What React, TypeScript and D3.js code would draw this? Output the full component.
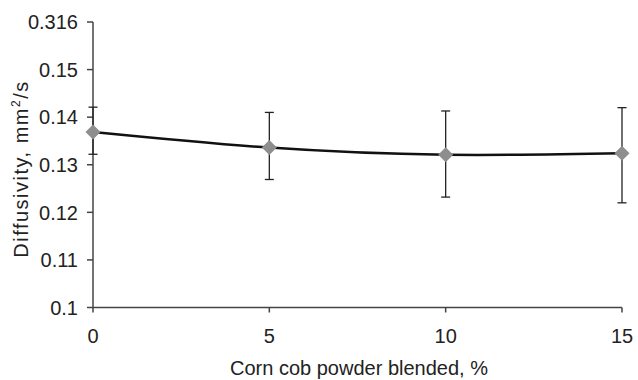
import React from "react";
import * as d3 from "d3";

const blend = [0, 5, 10, 15];
const diffusivity = [0.1369, 0.1336, 0.1321, 0.1324];
const errHigh = [0.1421, 0.141, 0.1413, 0.142];
const errLow = [0.1322, 0.1269, 0.1232, 0.122];
const yTickValues = [0.1, 0.11, 0.12, 0.13, 0.14, 0.15, 0.16];
const yTickLabels = ["0.1", "0.11", "0.12", "0.13", "0.14", "0.15", "0.316"];
const xTickValues = [0, 5, 10, 15];

export default function App() {
  const W = 638, H = 380;
  const x = d3.scaleLinear().domain([0, 15]).range([93, 622]);
  const y = d3.scaleLinear().domain([0.1, 0.16]).range([307.5, 22]);
  const line = d3
    .line<number>()
    .x((_, i) => x(blend[i]))
    .y((d) => y(d))
    .curve(d3.curveNatural);
  const font = "'Liberation Sans', Arial, Helvetica, sans-serif";
  const axisColor = "#444";
  return (
    <svg width={W} height={H} style={{ position: "absolute", left: 0, top: 0, background: "#fff" }} fontFamily={font}>
      {/* y axis */}
      <line x1={x(0)} x2={x(0)} y1={y(0.16)} y2={y(0.1)} stroke={axisColor} strokeWidth={1.5} />
      {yTickValues.map((v, i) => (
        <g key={"y" + i}>
          <line x1={x(0) - 6} x2={x(0)} y1={y(v)} y2={y(v)} stroke={axisColor} strokeWidth={1.5} />
          <text x={x(0) - 15} y={y(v)} dy="0.36em" textAnchor="end" fontSize={20} fill="#222">
            {yTickLabels[i]}
          </text>
        </g>
      ))}
      {/* x axis */}
      <line x1={x(0)} x2={x(15)} y1={y(0.1)} y2={y(0.1)} stroke={axisColor} strokeWidth={1.5} />
      {xTickValues.map((v, i) => (
        <g key={"x" + i}>
          <line x1={x(v)} x2={x(v)} y1={y(0.1)} y2={y(0.1) + 5} stroke={axisColor} strokeWidth={1.5} />
          <text x={x(v)} y={y(0.1) + 35.5} textAnchor="middle" fontSize={20} fill="#222">
            {v}
          </text>
        </g>
      ))}
      {/* titles */}
      <text x={359} y={375} textAnchor="middle" fontSize={20} fill="#222">
        Corn cob powder blended, %
      </text>
      <text transform={`translate(28,${169}) rotate(-90)`} textAnchor="middle" fontSize={20} letterSpacing={1.5} fill="#222">
        Diffusivity, mm<tspan dy={-8} fontSize={12}>2</tspan><tspan dy={8}>/s</tspan>
      </text>
      {/* curve */}
      <path d={line(diffusivity) || ""} fill="none" stroke="#111" strokeWidth={2.5} />
      {/* error bars */}
      {blend.map((b, i) => (
        <g key={"e" + i} stroke="#222" strokeWidth={1.3}>
          <line x1={x(b)} x2={x(b)} y1={y(errHigh[i])} y2={y(errLow[i])} />
          <line x1={x(b) - 4.5} x2={x(b) + 4.5} y1={y(errHigh[i])} y2={y(errHigh[i])} />
          <line x1={x(b) - 4.5} x2={x(b) + 4.5} y1={y(errLow[i])} y2={y(errLow[i])} />
        </g>
      ))}
      {/* markers */}
      {blend.map((b, i) => {
        const cx = x(b), cy = y(diffusivity[i]), r = 7.5;
        return (
          <path key={"m" + i} d={`M${cx},${cy - r}L${cx + r},${cy}L${cx},${cy + r}L${cx - r},${cy}Z`} fill="#8e8e8e" />
        );
      })}
    </svg>
  );
}
